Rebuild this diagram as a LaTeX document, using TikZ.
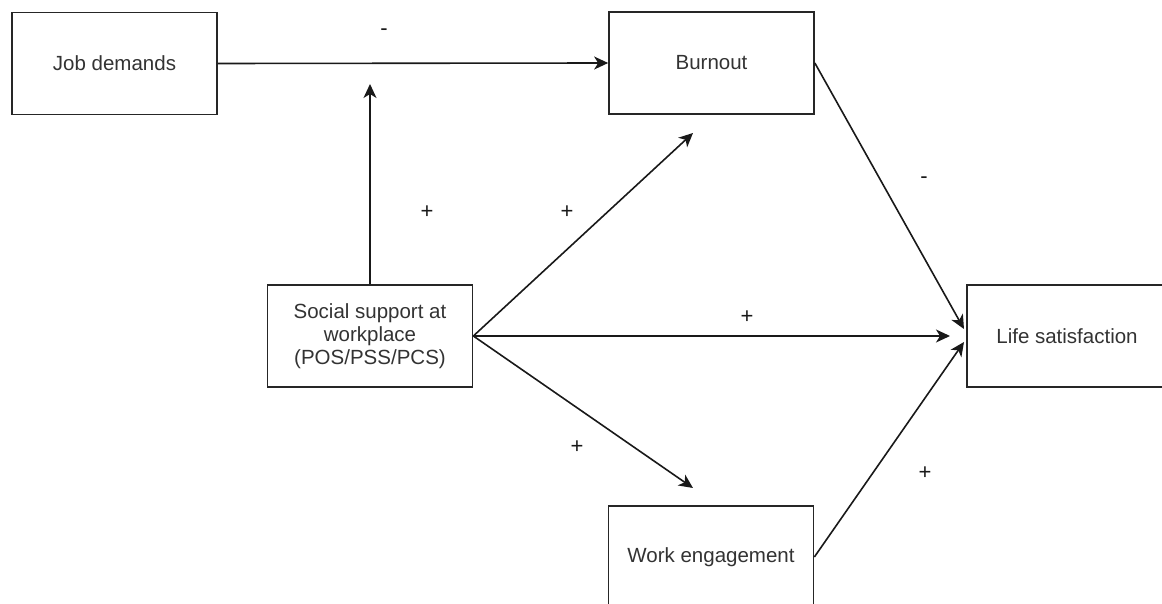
\documentclass[tikz,border=0pt]{standalone}
\usepackage{fontspec}
\setmainfont{Liberation Sans}
\usetikzlibrary{arrows.meta}
\begin{document}
\begin{tikzpicture}[x=1pt,y=-1pt,
  box/.style={draw=black!85, line width=1.7pt, minimum width=205pt, minimum height=102pt,
    inner sep=0pt, align=center, font=\fontsize{20.5}{23.3}\selectfont, text=black!80},
  arr/.style={line width=1.6pt, draw=black!90, -{Stealth[length=14pt,width=13pt,inset=4pt]}},
  sign/.style={font=\fontsize{22}{25}\selectfont, inner sep=0pt, text=black!90}]
\useasboundingbox (0,0) rectangle (1162,604);
\fill[white] (0,0) rectangle (1162,604);
\clip (0,0) rectangle (1162,604);

\node[box] (jd) at (114.5,63.5) {Job demands};
\node[box] (bo) at (711.5,63) {Burnout};
\node[box] (ss) at (370,336) {Social support at\\workplace\\(POS/PSS/PCS)};
\node[box] (we) at (711,557) {Work engagement};
\node[box, minimum width=200pt] (ls) at (1067,336) {Life satisfaction};

\coordinate (t1) at (370,84);
\coordinate (t2) at (693,133);
\coordinate (t3) at (950,336);
\coordinate (t4) at (693,488);
\coordinate (t5) at (964,329);
\coordinate (t6) at (964,342);

\draw[arr] (jd.east) -- (bo.west);
\draw[arr] (ss.north) -- (t1);
\draw[arr] (ss.east) -- (t2);
\draw[arr] (ss.east) -- (t3);
\draw[arr] (ss.east) -- (t4);
\draw[arr] (bo.east) -- (t5);
\draw[arr] (we.east) -- (t6);

\node[sign] (l1) at (384,32) {-};
\node[sign] (l2) at (427,212) {+};
\node[sign] (l3) at (567,212) {+};
\node[sign] (l4) at (924,180) {-};
\node[sign] (l5) at (747,317) {+};
\node[sign] (l6) at (577,447) {+};
\node[sign] (l7) at (925,473) {+};
\end{tikzpicture}
\end{document}
